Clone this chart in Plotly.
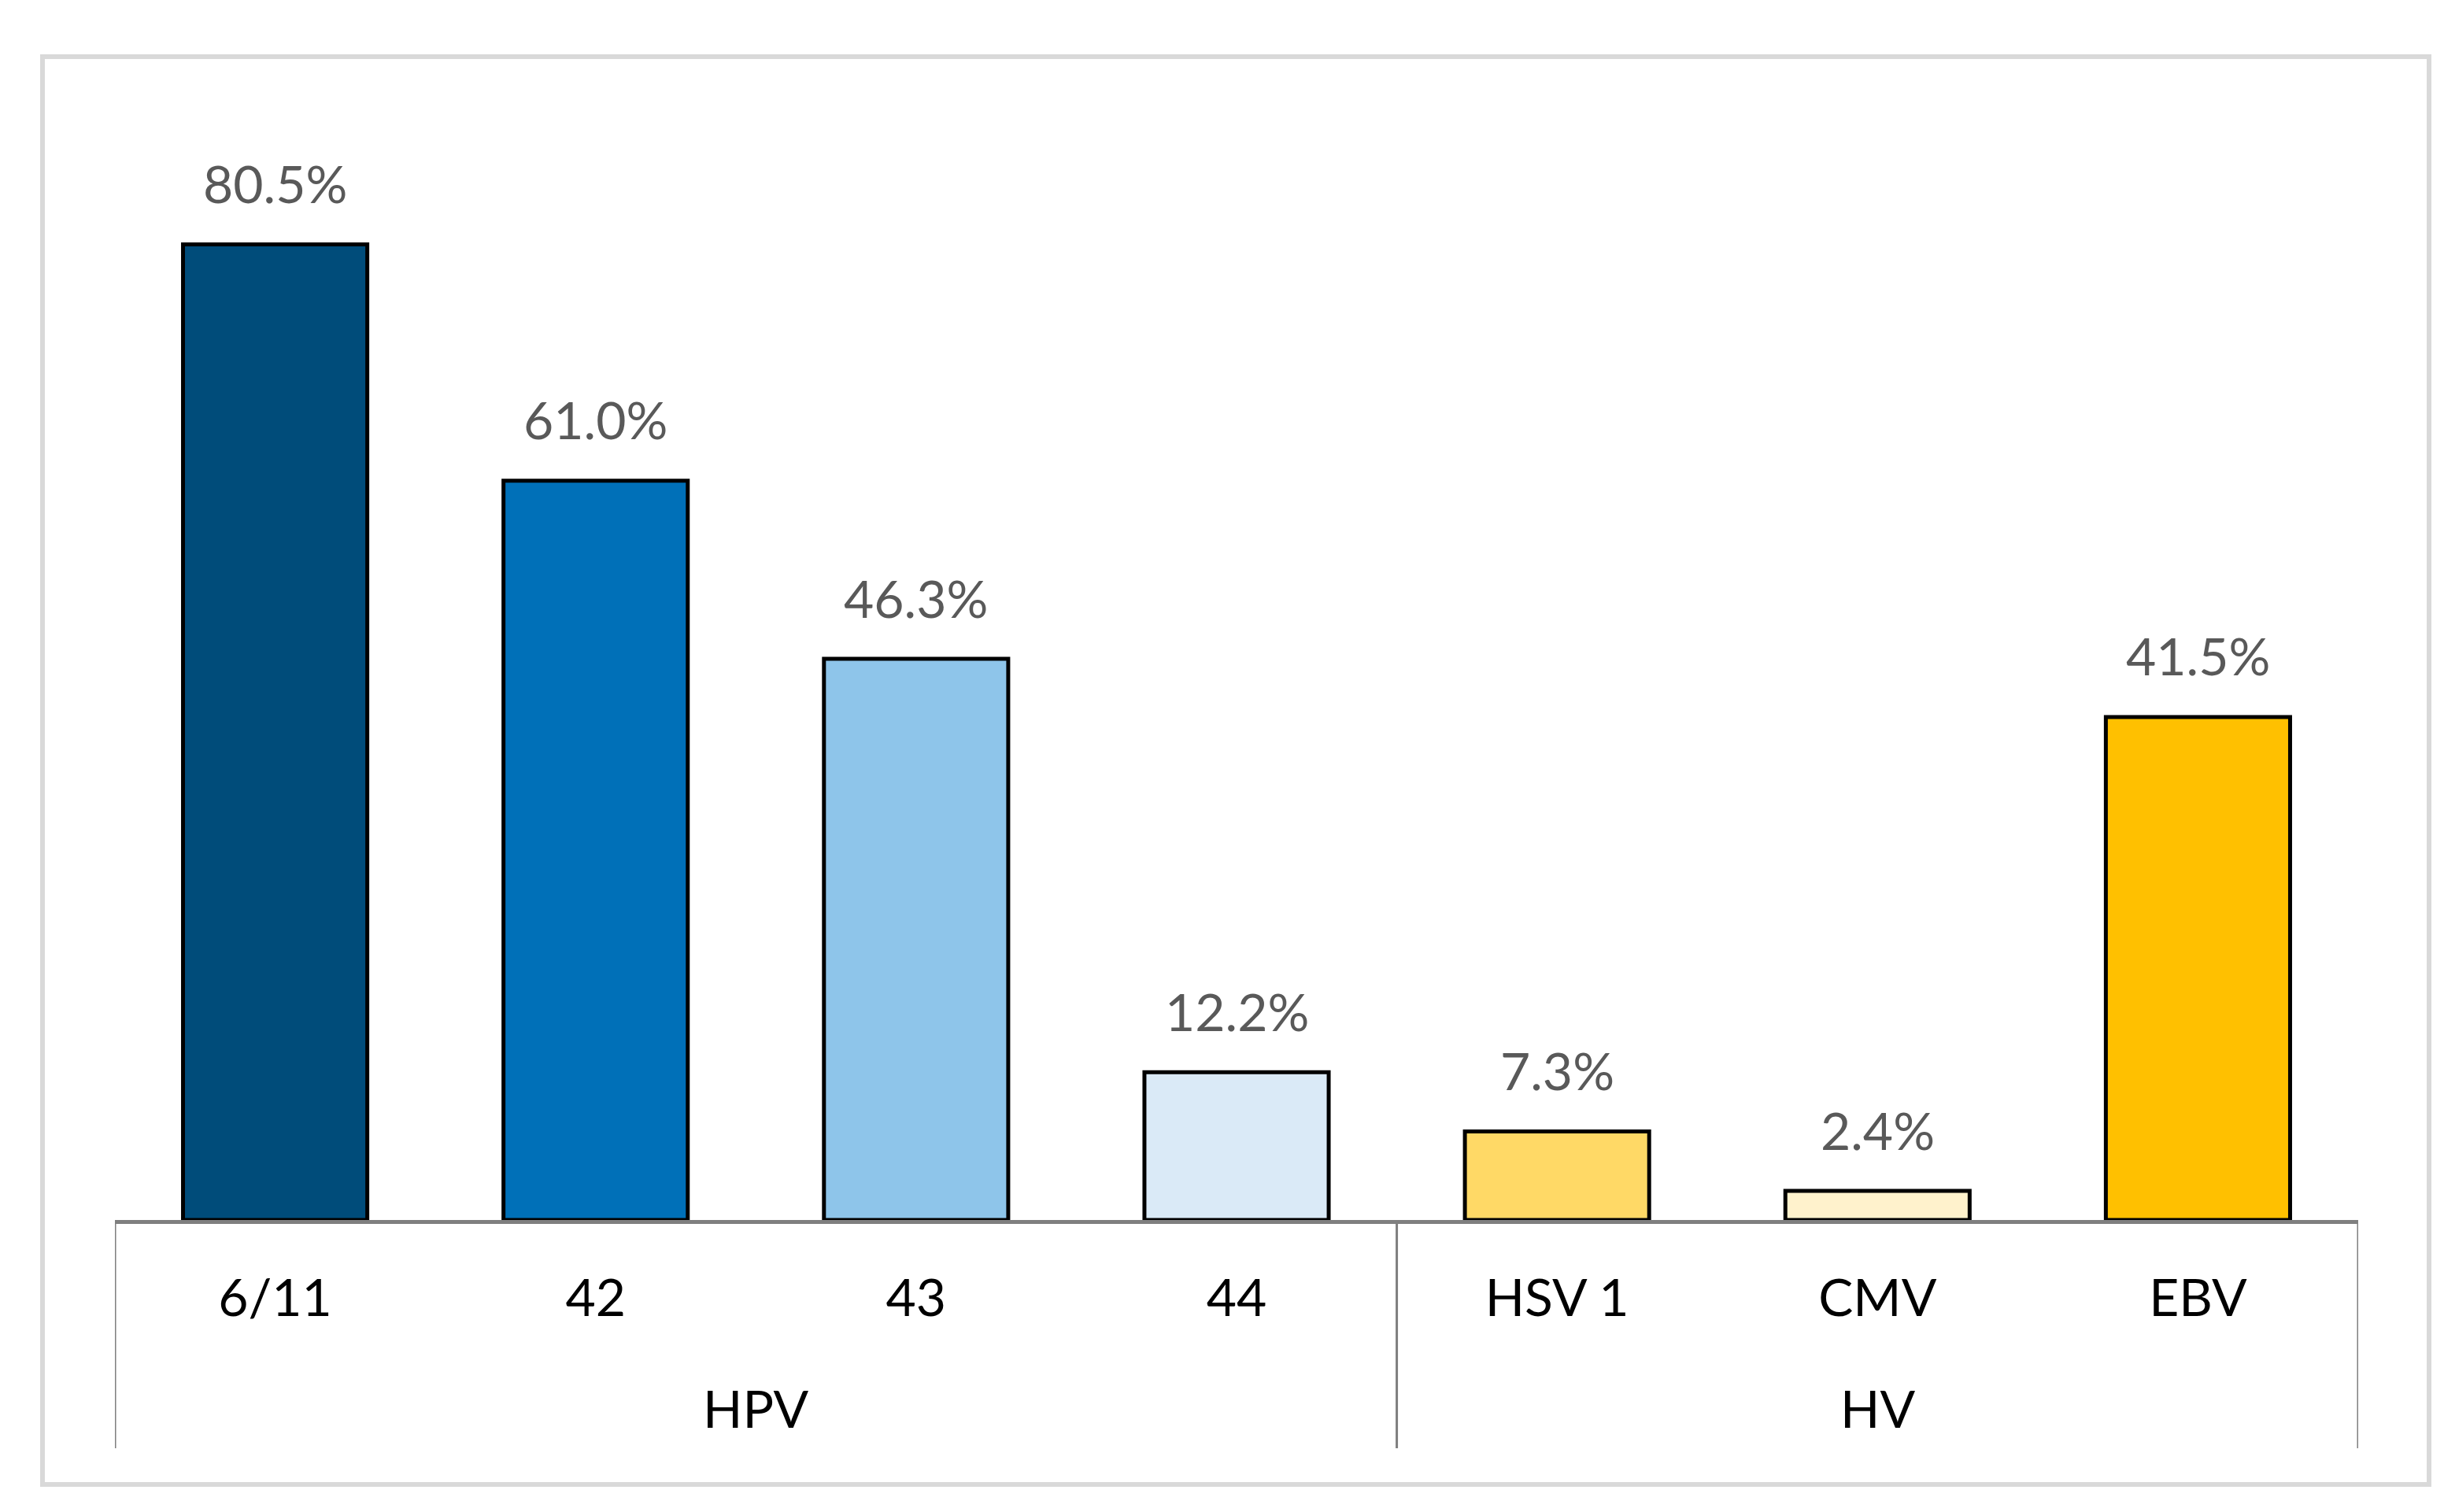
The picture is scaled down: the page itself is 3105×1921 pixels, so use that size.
import plotly.graph_objects as go

categories = ["6/11", "42", "43", "44", "HSV 1", "CMV", "EBV"]
groups = ["HPV", "HV"]
group_members = [["6/11", "42", "43", "44"], ["HSV 1", "CMV", "EBV"]]
values = [80.5, 61.0, 46.3, 12.2, 7.3, 2.4, 41.5]
colors = ["#004C7A", "#0070B8", "#8EC5EA", "#DAEAF7", "#FFD966", "#FFF2CC", "#FFC000"]

W, H = 3105, 1921
L, R, T, B = 138, 117, 150, 379
plot_w = W - L - R
plot_h = H - T - B

def px_to_paper_x(px):
    return (px - L) / plot_w

def px_to_paper_y(py):
    return (H - B - py) / plot_h

fig = go.Figure()
fig.add_trace(go.Bar(
    x=categories, y=values,
    marker=dict(color=colors, line=dict(color="#000000", width=5)),
    hoverinfo="skip",
))

annotations = []
for i, v in enumerate(values):
    annotations.append(dict(
        x=i, y=v, xref="x", yref="y", text=f"{v:.1f}%", showarrow=False,
        yanchor="middle", yshift=78,
        font=dict(family="Lato", size=66, color="#595959"),
    ))

shapes = []
idx = 0
bounds = [-0.5]
for g, members in zip(groups, group_members):
    center = idx + (len(members) - 1) / 2
    annotations.append(dict(
        x=center, y=px_to_paper_y(1780), xref="x", yref="paper", text=g,
        showarrow=False, yanchor="middle",
        font=dict(family="Lato", size=66, color="#000000"),
    ))
    idx += len(members)
    bounds.append(idx - 0.5)

for b in bounds:
    shapes.append(dict(type="line", xref="x", yref="paper", x0=b, x1=b,
                       y0=0, y1=px_to_paper_y(1832),
                       line=dict(color="#7F7F7F", width=3)))

shapes.append(dict(type="rect", xref="paper", yref="paper",
                   x0=px_to_paper_x(46), x1=px_to_paper_x(3078),
                   y0=px_to_paper_y(1878), y1=px_to_paper_y(64),
                   line=dict(color="#D9D9D9", width=6), layer="below"))

fig.update_layout(
    width=W, height=H,
    margin=dict(l=L, r=R, t=T, b=B),
    plot_bgcolor="white", paper_bgcolor="white",
    bargap=0.425,
    showlegend=False,
    annotations=annotations,
    shapes=shapes,
    font=dict(family="Lato", size=66, color="#000000"),
    xaxis=dict(type="category", showline=True, linecolor="#7F7F7F", linewidth=5,
               showgrid=False, zeroline=False, ticks="",
               tickfont=dict(family="Lato", size=66, color="#000000"),
               ticklabelstandoff=38, range=[-0.5, 6.5]),
    yaxis=dict(range=[0, 90.4], visible=False, showgrid=False, zeroline=False),
)

fig.write_html("out.html")
